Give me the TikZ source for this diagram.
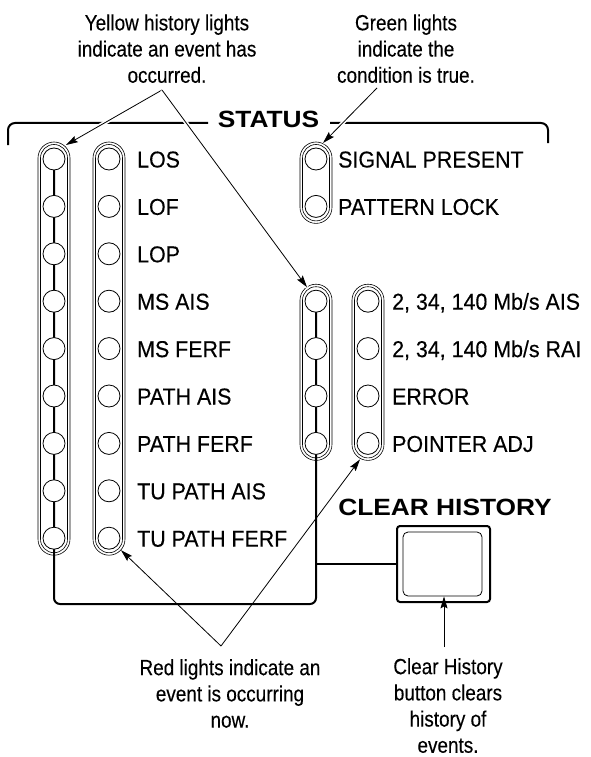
\documentclass[tikz,border=0pt]{standalone}
\usepackage{fontspec}
\setmainfont{Liberation Sans}
\newfontfamily\lblfont{Liberation Sans}[FakeStretch=0.93,FakeBold=0.3]
\newfontfamily\notefont{Liberation Sans}[FakeStretch=0.86,FakeBold=0.2]
\newfontfamily\hdfont{Liberation Sans Bold}[FakeStretch=1.12]
\usetikzlibrary{arrows.meta,backgrounds,calc}
\begin{document}
\begin{tikzpicture}[x=1pt,y=-1pt,
  lamp/.style={circle, draw, line width=0.8pt, fill=white, minimum size=22pt, inner sep=0pt},
  lbl/.style={anchor=base west, inner sep=0pt, font=\lblfont\fontsize{23}{26}\selectfont},
  note/.style={align=center, anchor=north, inner sep=0pt, font=\notefont\fontsize{22}{26.2}\selectfont},
  hd/.style={inner sep=0pt, anchor=base, font=\hdfont\fontsize{23.5}{28}\selectfont},
  heavy/.style={line width=2pt},
  pill/.style={line width=0.6pt},
  ptr/.style={line width=0.8pt, -{Stealth[length=12pt,width=7pt,inset=2pt]}},
  halo/.style={preaction={draw=white, line width=4pt, arrows=-}}
]
\useasboundingbox (0,0) rectangle (590,757);

% row coordinates
\foreach \k in {1,...,9} {
  \coordinate (A\k) at (54,{159+(\k-1)*47.4});
  \coordinate (B\k) at (109,{159+(\k-1)*47.4});
}
\foreach \k in {1,2} { \coordinate (C\k) at (316,{159+(\k-1)*47.4}); }
\foreach \k in {4,...,7} {
  \coordinate (D\k) at (316,{159+(\k-1)*47.4});
  \coordinate (E\k) at (368,{159+(\k-1)*47.4});
}

% STATUS bracket
\node[hd] (status) at (268.5,128) {STATUS};
\draw[heavy, rounded corners=7] (8,145) |- (208,123);
\draw[heavy, rounded corners=7] (330,123) -| (548,143);

% pills (double outline)
\foreach \p/\q in {A1/A9, B1/B9, C1/C2, D4/D7, E4/E7} {
  \draw[pill, rounded corners=16] ($(\p)+(-16,-17)$) rectangle ($(\q)+(16,17)$);
  \draw[pill, rounded corners=13.5] ($(\p)+(-13.5,-14.5)$) rectangle ($(\q)+(13.5,14.5)$);
}

% lamps
\foreach \k in {1,...,9} {
  \node[lamp] (a\k) at (A\k) {};
  \node[lamp] (b\k) at (B\k) {};
}
\foreach \k in {1,2} { \node[lamp] (c\k) at (C\k) {}; }
\foreach \k in {4,...,7} {
  \node[lamp] (d\k) at (D\k) {};
  \node[lamp] (e\k) at (E\k) {};
}

% labels
\foreach \k/\t in {1/LOS, 2/LOF, 3/LOP, 4/MS AIS, 5/MS FERF, 6/PATH AIS, 7/PATH FERF, 8/TU PATH AIS, 9/TU PATH FERF} {
  \node[lbl] (lb\k) at ($(B\k)+(28,8.5)$) {\t};
}
\node[lbl] (lc1) at ($(C1)+(22,8.5)$) {SIGNAL PRESENT};
\node[lbl] (lc2) at ($(C2)+(22,8.5)$) {PATTERN LOCK};
\node[lbl] (le4) at ($(E4)+(24,8.5)$) {2, 34, 140 Mb/s AIS};
\node[lbl] (le5) at ($(E5)+(24,8.5)$) {2, 34, 140 Mb/s RAI};
\node[lbl] (le6) at ($(E6)+(24,8.5)$) {ERROR};
\node[lbl] (le7) at ($(E7)+(24,8.5)$) {POINTER ADJ};

% clear history button
\node[hd] (clrhd) at (445,515) {CLEAR HISTORY};
\node[draw, heavy, rounded corners=3, minimum width=93pt, minimum height=76pt, inner sep=0pt] (btn) at (443.5,564) {};
\node[draw, line width=0.8pt, rounded corners=5, minimum width=79pt, minimum height=64pt, inner sep=0pt] (btnin) at (442.5,564) {};

% heavy wiring behind lamps
\begin{scope}[on background layer]
  \draw[heavy, rounded corners=6] (A1) -- (A9 |- 0,604) -- (D4 |- 0,604) -- (D4);
  \draw[heavy] (D7 |- btn.west) -- (btn.west);
\end{scope}

% annotations
\node[note] (ytxt) at (167,14.2) {Yellow history lights\\indicate an event has\\occurred.};
\node[note] (gtxt) at (406,14.2) {Green lights\\indicate the\\condition is true.};
\node[note] (rtxt) at (230,659) {Red lights indicate an\\event is occurring\\now.};
\node[note] (ctxt) at (448,658) {Clear History\\button clears\\history of\\events.};

% pointer coordinates
\coordinate (yap) at (162,90);
\coordinate (gap) at (377,88);
\coordinate (rap) at (221,646);
\coordinate (cap) at (444,647);
\coordinate (tA) at ($(A1)+(12,-14)$);
\coordinate (tD) at ($(D4)+(-9,-14)$);
\coordinate (tC) at ($(C1)+(7,-16)$);
\coordinate (tB) at ($(B9)+(12,12)$);
\coordinate (tE) at ($(E7)+(-8,16)$);

\draw[ptr, halo] (yap) -- (tA);
\draw[ptr, halo] (yap) -- (tD);
\draw[ptr, halo] (gap) -- (tC);
\draw[ptr] (rap) -- (tB);
\draw[ptr] (rap) -- (tE);
\draw[ptr] (cap) -- (cap |- btnin.south);
\end{tikzpicture}
\end{document}
